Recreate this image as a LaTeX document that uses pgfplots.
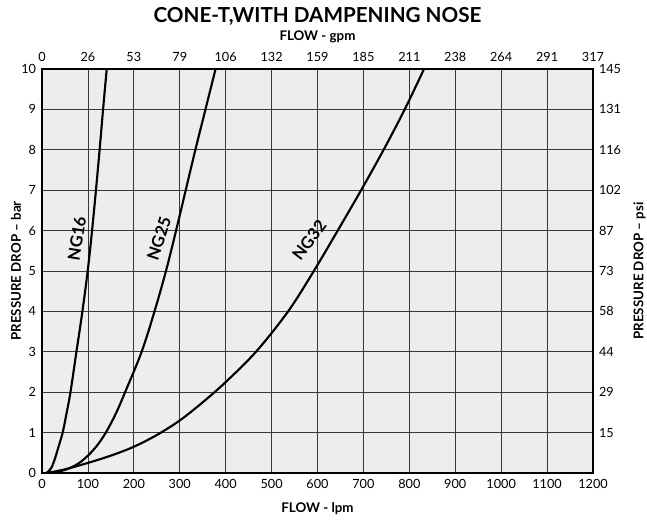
\documentclass[border=0pt]{standalone}
\usepackage{pgfplots}
\pgfplotsset{compat=1.18}
\usepackage{fontspec}
\setmainfont{Lato}
\begin{document}
\begin{tikzpicture}
\useasboundingbox (-31.5pt,-36pt) rectangle (453.75pt,354.75pt);
\begin{axis}[
  name=ax, at={(0,0)}, anchor=south west,
  scale only axis, width=413.25pt, height=303pt,
  xmin=0, xmax=1200, ymin=0, ymax=10,
  xtick={0,100,...,1200}, ytick={0,1,...,10},
  grid=major,
  major grid style={black!78, line width=0.6pt},
  axis background/.style={fill=black!7},
  major tick length=0pt,
  axis line style={black, line width=0.9pt},
  /pgf/number format/assume math mode=true,
  /pgf/number format/1000 sep={},
  ticklabel style={font=\fontsize{9.5}{10}\selectfont},
  xticklabel style={yshift=-1pt},
  yticklabel style={xshift=-1pt},
]
\addplot[black, line width=1.6pt, smooth, tension=0.55] coordinates {
 (10,0) (20,0.12) (28,0.35) (36,0.65) (45,1) (53,1.45) (62,2) (75,3) (88,4) (99.5,5) (109,6) (117.5,7) (125.5,8) (133,9) (141,10)};
\addplot[black, line width=1.6pt, smooth, tension=0.55] coordinates {
 (10,0) (35,0.03) (60,0.12) (80,0.24) (100,0.43) (120,0.68) (139,1) (160,1.45) (181,2) (217,3) (245,4) (270,5) (292,6) (313,7) (334,8) (356,9) (378,10)};
\addplot[black, line width=1.6pt, smooth, tension=0.55] coordinates {
 (10,0) (50,0.09) (100,0.25) (150,0.43) (200,0.65) (250,0.94) (300,1.3) (350,1.75) (400,2.25) (466,3) (536,4) (592,5) (644,6) (695,7) (744,8) (790,9) (832,10)};
\node[rotate=81, font=\bfseries\fontsize{12.5}{12}\selectfont] at (axis cs:76,5.8) {NG16};
\node[rotate=72, font=\bfseries\fontsize{12.5}{12}\selectfont] at (axis cs:255,5.8) {NG25};
\node[rotate=53, font=\bfseries\fontsize{12.5}{12}\selectfont] at (axis cs:582,5.76) {NG32};
\end{axis}
\begin{axis}[
  at={(0,0)}, anchor=south west,
  scale only axis, width=413.25pt, height=303pt,
  xmin=0, xmax=1200, ymin=0, ymax=10,
  axis x line*=top, axis y line*=right,
  axis line style={black, line width=0.9pt},
  xtick={0,100,...,1200},
  xticklabels={0,26,53,79,106,132,159,185,211,238,264,291,317},
  ytick={1,2,...,10},
  yticklabels={15,29,44,58,73,87,102,116,131,145},
  major tick length=0pt,
  ticklabel style={font=\fontsize{9.5}{10}\selectfont},
  xticklabel style={yshift=2pt},
  yticklabel style={xshift=1pt},
]
\end{axis}
\node[font=\bfseries\fontsize{15.5}{15}\selectfont, anchor=base] at ([yshift=34.5pt]ax.north) {CONE-T,WITH DAMPENING NOSE};
\node[font=\bfseries\fontsize{10}{10}\selectfont, anchor=base] at ([yshift=21pt]ax.north) {FLOW - gpm};
\node[font=\bfseries\fontsize{10}{10}\selectfont, anchor=base] at ([yshift=-30pt]ax.south) {FLOW - lpm};
\node[font=\bfseries\fontsize{10}{10}\selectfont, rotate=90] at ([xshift=-19.5pt]ax.west) {PRESSURE DROP -- bar};
\node[font=\bfseries\fontsize{10}{10}\selectfont, rotate=90] at ([xshift=35pt]ax.east) {PRESSURE DROP -- psi};
\end{tikzpicture}
\end{document}
